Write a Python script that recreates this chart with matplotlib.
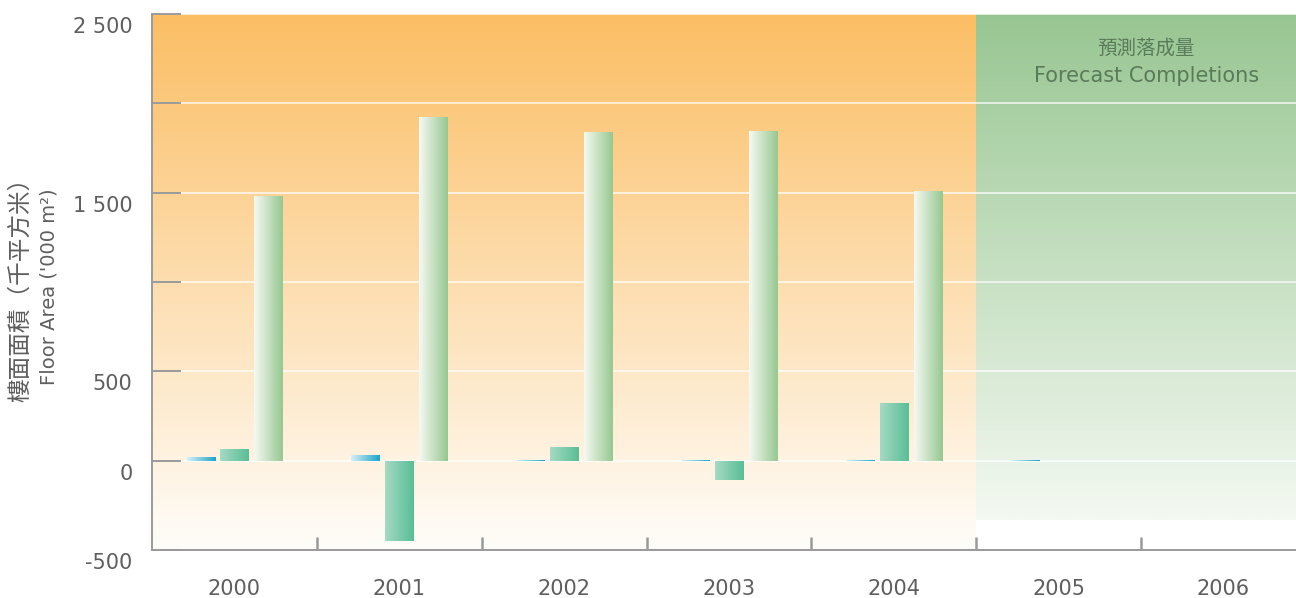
import numpy as np
import matplotlib
matplotlib.use("Agg")
import matplotlib.pyplot as plt
import matplotlib.transforms as mtransforms

years = ["2000", "2001", "2002", "2003", "2004", "2005", "2006"]
# three series per year; forecast years have no values
series_a = [17, 28, 3, 2, 3, 3, np.nan]
series_b = [67, -447, 78, -106, 324, np.nan, np.nan]
series_c = [1482, 1924, 1840, 1846, 1510, np.nan, np.nan]

y_ticks = [-500, 0, 500, 1000, 1500, 2000, 2500]
y_tick_labels = ["-500", "0", "500", "", "1 500", "", "2 500"]

ylabel_zh = "樓面面積（千平方米）"
ylabel_en = "Floor Area ('000 m²)"
forecast_zh = "預測落成量"
forecast_en = "Forecast Completions"

plt.rcParams["font.family"] = ["DejaVu Sans", "Noto Sans CJK TC"]
TEXT = "#5e5e5e"
AXIS = "#9a9a9a"
X_RIGHT = 6.44


def rgb(c):
    return np.array(c, dtype=float) / 255


def vertical_gradient(ax, extent, top, bottom, zorder=0):
    t = np.linspace(0, 1, 256)[:, None, None]
    img = rgb(top) * (1 - t) + rgb(bottom) * t
    ax.imshow(img, extent=extent, origin="upper", aspect="auto",
              interpolation="bilinear", zorder=zorder)


def horizontal_gradient(ax, patch, left, right):
    t = np.linspace(0, 1, 64)[None, :, None]
    img = rgb(left) * (1 - t) + rgb(right) * t
    x0, y0 = patch.get_x(), patch.get_y()
    w, h = patch.get_width(), patch.get_height()
    ax.imshow(img, extent=(x0, x0 + w, min(y0, y0 + h), max(y0, y0 + h)),
              origin="upper", aspect="auto", interpolation="bilinear",
              zorder=3)


fig = plt.figure(figsize=(12.96, 5.98), dpi=100)
ax = fig.add_axes([152 / 1296, 48 / 598, 1 - 152 / 1296, 536 / 598])

# backgrounds: actual years in orange, forecast years in green
vertical_gradient(ax, (-0.5, X_RIGHT, -500, 2500), (251, 190, 100), (255, 253, 250))
ax.fill_between([4.5, X_RIGHT], -500, -330, color="white", zorder=0.1, lw=0)
vertical_gradient(ax, (4.5, X_RIGHT, -330, 2500), (152, 198, 146), (244, 249, 242), zorder=0.2)

x = np.arange(len(years))
width = 0.17
offset = 0.205
bar_styles = [
    (series_a, -offset, (215, 240, 248), (25, 165, 200)),
    (series_b, 0.0, (165, 218, 196), (88, 190, 150)),
    (series_c, offset, (246, 249, 242), (150, 200, 145)),
]
for values, dx, left, right in bar_styles:
    bars = ax.bar(x + dx, values, width, color="none", zorder=3)
    for patch, v in zip(bars.patches, values):
        if np.isnan(v):
            continue
        horizontal_gradient(ax, patch, left, right)

ax.set_xlim(-0.5, X_RIGHT)
ax.set_ylim(-500, 2500)

ax.set_axisbelow(True)
ax.yaxis.grid(True, color="white", lw=1.3, alpha=0.75)

ax.set_yticks(y_ticks)
ax.set_yticklabels(y_tick_labels)
ax.tick_params(axis="y", direction="in", length=21, width=1.4, color=AXIS,
               labelsize=15, labelcolor=TEXT, pad=14)
shift = mtransforms.ScaledTranslation(0, -11 / 100, fig.dpi_scale_trans)
for lbl in ax.get_yticklabels():
    lbl.set_transform(lbl.get_transform() + shift)

ax.set_xticks(x)
ax.set_xticklabels(years)
ax.set_xticks(np.arange(0.5, 6, 1), minor=True)
ax.tick_params(axis="x", which="major", length=0, labelsize=15,
               labelcolor=TEXT, pad=21)
ax.tick_params(axis="x", which="minor", direction="in", length=9.5,
               width=1.8, color=AXIS)

for side in ["top", "right"]:
    ax.spines[side].set_visible(False)
for side in ["left", "bottom"]:
    ax.spines[side].set_color(AXIS)
    ax.spines[side].set_linewidth(1.4)

fig.text(21 / 1296, 1 - 284 / 598, ylabel_zh, rotation=90, ha="center",
         va="center", fontsize=17, color=TEXT,
         family=["Noto Sans CJK TC", "DejaVu Sans"])
fig.text(49 / 1296, 1 - 287 / 598, ylabel_en, rotation=90, ha="center",
         va="center", fontsize=14, color=TEXT)

ax.text(0.869, 0.937, forecast_zh, transform=ax.transAxes, ha="center",
        va="center", fontsize=14, color="#5a7a5a",
        family=["Noto Sans CJK TC", "DejaVu Sans"], zorder=5)
ax.text(0.869, 0.884, forecast_en, transform=ax.transAxes, ha="center",
        va="center", fontsize=15, color="#5a7a5a", zorder=5)

fig.savefig("out.png", dpi=100)
